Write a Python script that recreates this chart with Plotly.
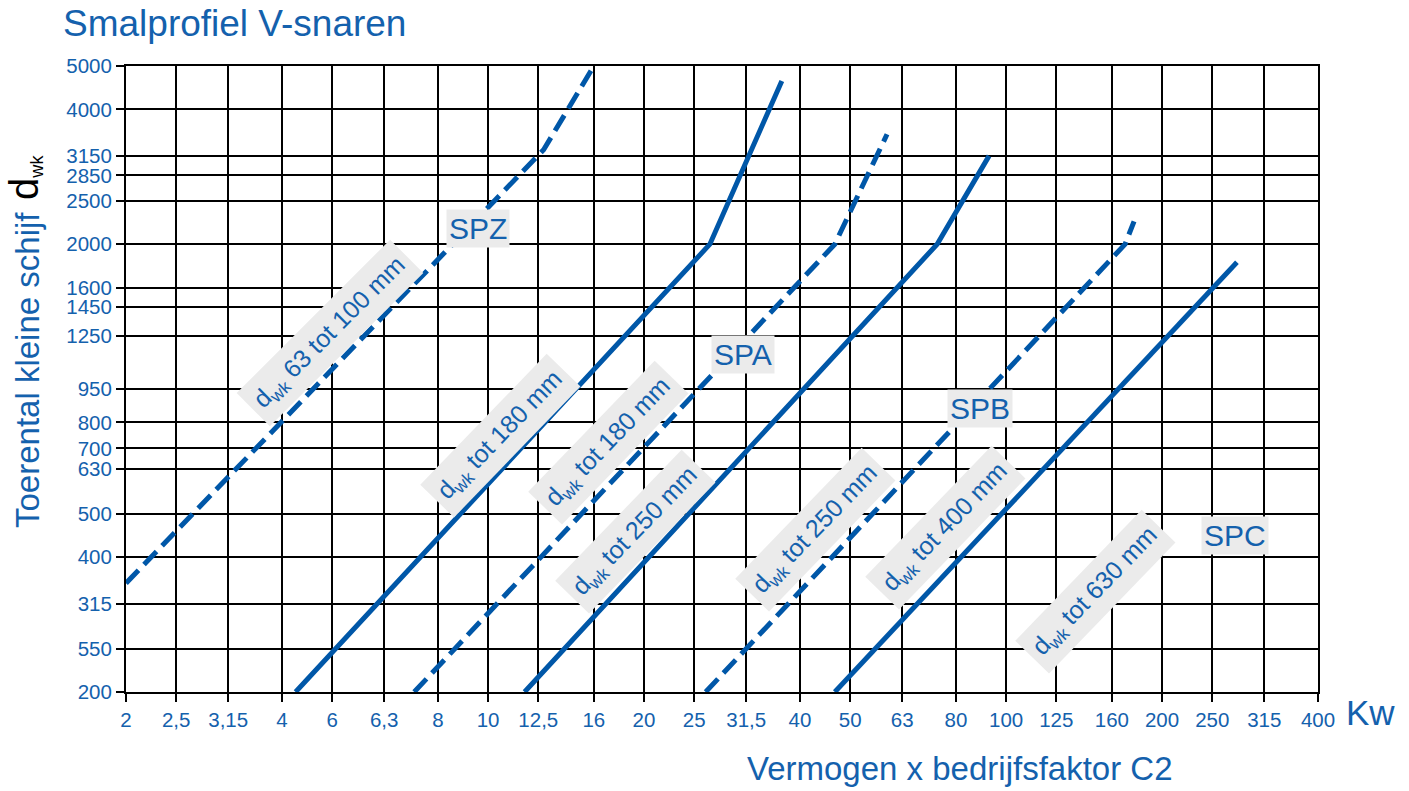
import numpy as np
import plotly.graph_objects as go

# Axis scales (R10 series) and their printed labels
x_ticks = [2, 2.5, 3.15, 4, 5, 6.3, 8, 10, 12.5, 16, 20, 25, 31.5, 40, 50, 63,
           80, 100, 125, 160, 200, 250, 315, 400]
x_labels = ["2", "2,5", "3,15", "4", "6", "6,3", "8", "10", "12,5", "16", "20", "25",
            "31,5", "40", "50", "63", "80", "100", "125", "160", "200", "250", "315", "400"]
y_ticks = [200, 250, 315, 400, 500, 630, 700, 800, 950, 1250, 1450, 1600, 2000,
           2500, 2850, 3150, 4000, 5000]
y_labels = ["200", "550", "315", "400", "500", "630", "700", "800", "950", "1250",
            "1450", "1600", "2000", "2500", "2850", "3150", "4000", "5000"]

# Selection lines: power (kW) vs. speed of the small pulley (rpm)
spz_kw = [2.0, 12.8, 16.0]
spz_rpm = [350, 3250, 5000]

spa_small_kw = [4.25, 26.8, 36.9]
spa_small_rpm = [200, 2000, 4630]

spa_large_kw = [7.2, 46.7, 58.9]
spa_large_rpm = [200, 2000, 3520]

spb_small_kw = [11.76, 73.6, 92.7]
spb_small_rpm = [200, 2000, 3150]

spb_large_kw = [26.3, 169.7, 176.6]
spb_large_rpm = [200, 2000, 2250]

spc_kw = [46.7, 279.0]
spc_rpm = [200, 1823]

LINE = "#0057a8"
TEXT = "#1461ad"
BOX = "#ebebeb"
FONT = "Liberation Sans"

series = [
    (spz_kw, spz_rpm, "18px,8px"),
    (spa_small_kw, spa_small_rpm, "solid"),
    (spa_large_kw, spa_large_rpm, "18px,8px"),
    (spb_small_kw, spb_small_rpm, "solid"),
    (spb_large_kw, spb_large_rpm, "18px,8px"),
    (spc_kw, spc_rpm, "solid"),
]

fig = go.Figure()
for kw, rpm, dash in series:
    fig.add_trace(go.Scatter(x=kw, y=rpm, mode="lines",
                             line=dict(color=LINE, width=5, dash=dash),
                             hoverinfo="skip", showlegend=False))

# Plot area in pixels, used to place labels in paper coordinates
L, T, W, H = 126, 66, 1192, 626


def px(xp, yp):
    return (xp - L) / W, (T + H - yp) / H


def note(text, xp, yp, size, xanchor="center", yanchor="middle", color=TEXT, **kw):
    ax, ay = px(xp, yp)
    return dict(text=text, x=ax, y=ay, xref="paper", yref="paper", showarrow=False,
                xanchor=xanchor, yanchor=yanchor,
                font=dict(size=size, color=color, family=FONT), **kw)


annotations = []

# Rotated range labels along the lines
range_labels = [
    ("d<sub>wk</sub> 63 tot 100 mm", 330, 333, -45),
    ("d<sub>wk</sub> tot 180 mm", 500, 436, -46),
    ("d<sub>wk</sub> tot 180 mm", 608, 443, -46),
    ("d<sub>wk</sub> tot 250 mm", 635, 532, -46),
    ("d<sub>wk</sub> tot 250 mm", 815, 530, -46),
    ("d<sub>wk</sub> tot 400 mm", 945, 528, -46),
    ("d<sub>wk</sub> tot 630 mm", 1095, 592, -46),
]
for text, xp, yp, ang in range_labels:
    annotations.append(note(text, xp, yp, 25, textangle=ang, bgcolor=BOX, borderpad=7))

# Profile names
profile_labels = [("SPZ", 478, 228), ("SPA", 743, 354), ("SPB", 980, 408), ("SPC", 1235, 535)]
for text, xp, yp in profile_labels:
    annotations.append(note(text, xp, yp, 30, bgcolor=BOX, borderpad=2))

# Titles
annotations.append(note("Smalprofiel V-snaren", 61, 24, 37, xanchor="left"))
annotations.append(note("Toerental kleine schijf", 27, 370, 33, textangle=-90))
annotations.append(note("<span style='font-size:40px'>d</span><sub>wk</sub>",
                        24, 178, 26, color="#000000", textangle=-90))
annotations.append(note("Vermogen x bedrijfsfaktor C2", 960, 768, 33))
annotations.append(note("Kw", 1370, 712, 35))

axis_common = dict(showgrid=True, gridcolor="#000000", gridwidth=2, showline=True,
                   linecolor="#000000", linewidth=2, mirror=True, ticks="outside",
                   ticklen=8, tickwidth=2, tickcolor="#000000", zeroline=False,
                   tickfont=dict(size=20.5, color=TEXT, family=FONT))

fig.update_layout(
    width=1409, height=791,
    margin=dict(l=L, r=1409 - L - W, t=T, b=791 - T - H, autoexpand=False),
    paper_bgcolor="white", plot_bgcolor="white",
    xaxis=dict(type="log", range=[np.log10(2), np.log10(400)],
               tickmode="array", tickvals=x_ticks, ticktext=x_labels, **axis_common),
    yaxis=dict(type="log", range=[np.log10(200), np.log10(5000)],
               tickmode="array", tickvals=y_ticks, ticktext=y_labels, **axis_common),
    annotations=annotations,
    showlegend=False,
)

fig.write_html("out.html")
